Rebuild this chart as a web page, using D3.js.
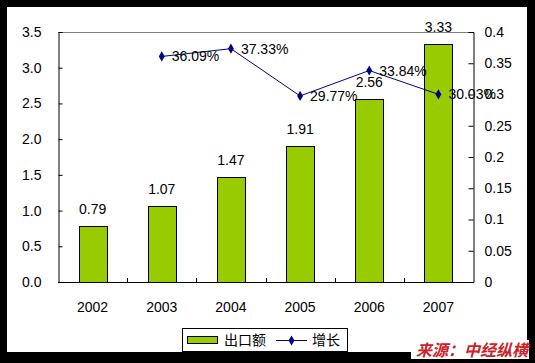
<!DOCTYPE html>
<html lang="zh">
<head>
<meta charset="UTF-8">
<script src="https://d3js.org/d3.v7.min.js"></script>
<style>
body { margin: 0; background: #000; }
svg { display: block; }
text { font-family: "Liberation Sans", Arial, sans-serif; fill: #000; }
</style>
</head>
<body>
<svg id="chart" width="535" height="363"></svg>
<script>
    // data
    const years = ['2002', '2003', '2004', '2005', '2006', '2007'];
    const exportVals = [0.79, 1.07, 1.47, 1.91, 2.56, 3.33];
    const growthYears = ['2003', '2004', '2005', '2006', '2007'];
    const growth = [0.3609, 0.3733, 0.2977, 0.3384, 0.3003];
    const leftTicks = [0, 0.5, 1, 1.5, 2, 2.5, 3, 3.5];
    const rightTicks = [0, 0.05, 0.1, 0.15, 0.2, 0.25, 0.3, 0.35, 0.4];

    const svg = d3.select('#chart');
    const pL = 58, pR = 473, pT = 32, pB = 282;

    svg.append('rect').attr('x', 7).attr('y', 7).attr('width', 520).attr('height', 345).attr('fill', '#fff');

    const x = d3.scaleBand().domain(years).range([pL, pR]);
    const yL = d3.scaleLinear().domain([0, 3.5]).range([pB, pT]);
    const yR = d3.scaleLinear().domain([0, 0.4]).range([pB, pT]);

    // top border of plot area
    svg.append('line')
        .attr('x1', pL).attr('x2', pR).attr('y1', pT + 0.5).attr('y2', pT + 0.5)
        .attr('stroke', '#808080');

    // bars
    const barW = 28;
    svg.selectAll('.bar')
        .data(exportVals)
        .enter()
        .append('rect')
        .attr('class', 'bar')
        .attr('x', (d, i) => Math.round(x(years[i]) + x.bandwidth() / 2 - barW / 2) + 0.5)
        .attr('y', (d) => Math.round(yL(d)) + 0.5)
        .attr('width', barW)
        .attr('height', (d) => pB - Math.round(yL(d)))
        .attr('fill', '#99CC00')
        .attr('stroke', '#000')
        .attr('stroke-width', 1);

    svg.selectAll('.barlabel')
        .data(exportVals)
        .enter()
        .append('text')
        .attr('x', (d, i) => x(years[i]) + x.bandwidth() / 2)
        .attr('y', (d) => yL(d) - 12)
        .attr('text-anchor', 'middle')
        .style('font-size', '14px')
        .text((d) => d.toFixed(2));

    // axes
    const axisL = d3.axisLeft(yL).tickValues(leftTicks).tickSize(-4).tickPadding(17).tickFormat(d3.format('.1f'));
    const gL = svg.append('g').attr('transform', 'translate(' + (pL + 0.5) + ',0)').call(axisL);

    const axisR = d3.axisRight(yR).tickValues(rightTicks).tickSize(-5).tickPadding(11).tickFormat((d) => String(+d.toFixed(2)));
    const gR = svg.append('g').attr('transform', 'translate(' + (pR + 0.5) + ',0)').call(axisR);

    const axisB = d3.axisBottom(x).tickSize(0).tickPadding(20);
    const gB = svg.append('g').attr('transform', 'translate(0,' + (pB + 0.5) + ')').call(axisB);

    // category boundary ticks on x axis
    svg.selectAll('.xtick')
        .data(years.slice(1))
        .enter()
        .append('line')
        .attr('x1', (d) => Math.round(x(d)) + 0.5)
        .attr('x2', (d) => Math.round(x(d)) + 0.5)
        .attr('y1', pB)
        .attr('y2', pB - 4)
        .attr('stroke', '#000');

    [gL, gR, gB].forEach((g) => {
        g.selectAll('text').style('font-size', '14px').style('font-family', '"Liberation Sans", Arial, sans-serif');
        g.selectAll('line').attr('stroke', '#000');
        g.select('.domain').attr('stroke', '#000');
    });
    gB.select('.domain').attr('d', 'M' + pL + ',0H' + pR);

    // growth line
    const lx = (i) => x(growthYears[i]) + x.bandwidth() / 2;
    const line = d3.line().x((d, i) => lx(i)).y((d) => yR(d));
    svg.append('path')
        .datum(growth)
        .attr('d', line)
        .attr('fill', 'none')
        .attr('stroke', '#000080')
        .attr('stroke-width', 1);

    const diamond = d3.symbol().type(d3.symbolDiamond).size(30);
    svg.selectAll('.pt')
        .data(growth)
        .enter()
        .append('path')
        .attr('d', diamond)
        .attr('transform', (d, i) => 'translate(' + lx(i) + ',' + yR(d) + ')')
        .attr('fill', '#000080');

    svg.selectAll('.ptlabel')
        .data(growth)
        .enter()
        .append('text')
        .attr('x', (d, i) => lx(i) + 10)
        .attr('y', (d) => yR(d) + 5)
        .style('font-size', '14px')
        .text((d) => (d * 100).toFixed(2) + '%');

    // legend
    const lg = svg.append('g');
    lg.append('rect').attr('x', 182.5).attr('y', 328.5).attr('width', 165).attr('height', 23)
        .attr('fill', '#fff').attr('stroke', '#000');
    lg.append('rect').attr('x', 187.5).attr('y', 336.5).attr('width', 30).attr('height', 7)
        .attr('fill', '#99CC00').attr('stroke', '#000');
    lg.append('text').attr('x', 224).attr('y', 345).style('font-size', '14px')
        .style('font-family', '"Noto Sans CJK SC", sans-serif').text('出口额');
    lg.append('line').attr('x1', 276).attr('x2', 307).attr('y1', 340.5).attr('y2', 340.5)
        .attr('stroke', '#000080');
    lg.append('path').attr('d', diamond).attr('transform', 'translate(291.5,340.5)').attr('fill', '#000080');
    lg.append('text').attr('x', 312).attr('y', 345).style('font-size', '14px')
        .style('font-family', '"Noto Sans CJK SC", sans-serif').text('增长');

    // source
    svg.append('rect').attr('x', 411).attr('y', 340).attr('width', 118).attr('height', 19).attr('fill', '#fff');
    svg.append('text')
        .attr('x', 528).attr('y', 356)
        .attr('text-anchor', 'end')
        .style('font-family', '"Noto Sans CJK SC", sans-serif')
        .style('font-size', '16px')
        .style('font-weight', 'bold')
        .style('font-style', 'italic')
        .style('fill', '#cc2229')
        .text('来源：中经纵横');
</script>
</body>
</html>
